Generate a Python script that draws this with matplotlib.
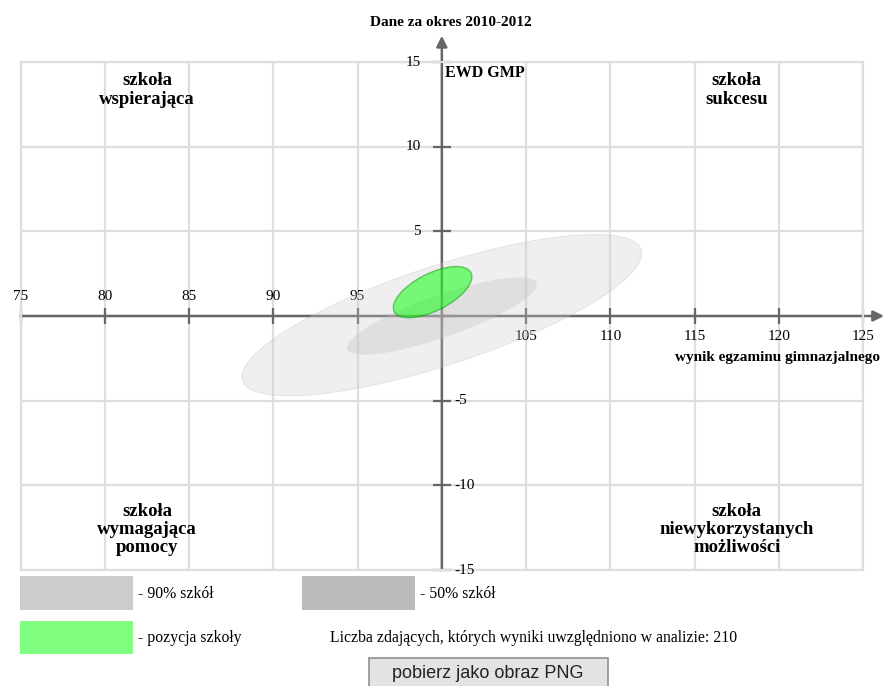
import matplotlib.pyplot as plt
from matplotlib.patches import Ellipse, Rectangle

# axis ticks
x_ticks = [75, 80, 85, 90, 95, 100, 105, 110, 115, 120, 125]
y_ticks = [-15, -10, -5, 0, 5, 10, 15]

# ellipses: centre, (width, height), angle in degrees
range90_center = (100.0, 0.05)
range90_size = (24.9, 5.85)
range90_angle = 18.1

range50_center = (100.0, 0.0)
range50_size = (11.9, 2.5)
range50_angle = 19.2

school_center = (99.45, 1.41)
school_size = (5.1, 2.2)
school_angle = 26.7

quadrant_labels = [
    "szkoła\nwspierająca",
    "szkoła\nsukcesu",
    "szkoła\nwymagająca\npomocy",
    "szkoła\nniewykorzystanych\nmożliwości",
]
legend_labels = ["- 90% szkół", "- 50% szkół", "- pozycja szkoły"]
n_students = 210

plt.rcParams['font.family'] = ['Liberation Serif', 'DejaVu Serif']

W, H = 885, 686
fig = plt.figure(figsize=(W / 100, H / 100), dpi=100)
ax = fig.add_axes([20.7 / W, (H - 570) / H, 842.3 / W, 508 / H])
ax.set_xlim(75, 125)
ax.set_ylim(-15, 15)

grid_col = '#dedede'
axis_col = '#666666'
text_col = '#000000'

# grid and frame
ax.set_xticks(x_ticks)
ax.set_yticks(y_ticks)
ax.tick_params(length=0, labelbottom=False, labelleft=False)
ax.grid(True, color=grid_col, lw=1.6)
ax.set_axisbelow(True)
for sp in ax.spines.values():
    sp.set_color(grid_col)
    sp.set_linewidth(1.6)

# central axes with arrows
ax.annotate('', xy=(100, 16.55), xytext=(100, -15), annotation_clip=False,
            arrowprops=dict(arrowstyle='-|>', color=axis_col, lw=1.8,
                            mutation_scale=16, shrinkA=0, shrinkB=0), zorder=2)
ax.annotate('', xy=(126.25, 0), xytext=(75, 0), annotation_clip=False,
            arrowprops=dict(arrowstyle='-|>', color=axis_col, lw=1.8,
                            mutation_scale=16, shrinkA=0, shrinkB=0), zorder=2)
ax.plot(x_ticks, [0] * len(x_ticks), ls='none', marker='|', ms=12, mew=1.6,
        color=axis_col, clip_on=False, zorder=2)
ax.plot([100] * len(y_ticks), y_ticks, ls='none', marker='_', ms=13, mew=1.6,
        color=axis_col, clip_on=False, zorder=2)

# tick labels
tick_fs = 11
for xv in x_ticks:
    if xv < 100:
        ax.annotate(str(xv), (xv, 0), xytext=(0, 14), textcoords='offset points',
                    ha='center', va='center', fontsize=tick_fs, color=text_col,
                    annotation_clip=False)
    elif xv > 100:
        ax.annotate(str(xv), (xv, 0), xytext=(0, -15), textcoords='offset points',
                    ha='center', va='center', fontsize=tick_fs, color=text_col,
                    annotation_clip=False)
for yv in y_ticks:
    if yv > 0:
        ax.annotate(str(yv), (100, yv), xytext=(-15, 0), textcoords='offset points',
                    ha='right', va='center', fontsize=tick_fs, color=text_col,
                    annotation_clip=False)
    elif yv < 0:
        ax.annotate(str(yv), (100, yv), xytext=(9, 0), textcoords='offset points',
                    ha='left', va='center', fontsize=tick_fs, color=text_col,
                    annotation_clip=False)

# ellipses
ax.add_patch(Ellipse(range90_center, *range90_size, angle=range90_angle,
                     facecolor='#cccccc', alpha=0.3, edgecolor='#bbbbbb', lw=0.8, zorder=3))
ax.add_patch(Ellipse(range50_center, *range50_size, angle=range50_angle,
                     facecolor='#bbbbbb', alpha=0.3, edgecolor='none', zorder=4))
ax.add_patch(Ellipse(school_center, *school_size, angle=school_angle,
                     facecolor=(0, 1, 0, 0.5), edgecolor=(0, 0.6, 0, 0.5), lw=1, zorder=5))

# quadrant labels
qpos = [(82.5, 13.35), (117.5, 13.35), (82.5, -12.6), (117.5, -12.6)]
for (qx, qy), lab in zip(qpos, quadrant_labels):
    ax.text(qx, qy, lab, ha='center', va='center', fontsize=13.5,
            fontweight='bold', linespacing=1.1, color=text_col, zorder=6)

ax.text(100.2, 14.8, 'EWD GMP', ha='left', va='top', fontsize=11.5,
        fontweight='bold', color=text_col, zorder=6)
fig.text(451 / W, 1 - 22 / H, 'Dane za okres 2010-2012', ha='center', va='center',
         fontsize=11, fontweight='bold', color=text_col)
fig.text(880 / W, 1 - 357 / H, 'wynik egzaminu gimnazjalnego', ha='right',
         va='center', fontsize=11, fontweight='bold', color=text_col)

# legend boxes
def fig_rect(x0, y0, x1, y1, **kw):
    fig.patches.append(Rectangle((x0 / W, 1 - y1 / H), (x1 - x0) / W, (y1 - y0) / H,
                                 transform=fig.transFigure, figure=fig, **kw))

fig_rect(20, 576, 133, 610, facecolor='#cccccc', edgecolor='none')
fig_rect(302, 576, 415, 610, facecolor='#bbbbbb', edgecolor='none')
fig_rect(20, 621, 133, 654, facecolor='#80ff80', edgecolor='none')
leg_fs = 11.3
fig.text(138 / W, 1 - 594 / H, legend_labels[0], ha='left', va='center', fontsize=leg_fs, color=text_col)
fig.text(420 / W, 1 - 594 / H, legend_labels[1], ha='left', va='center', fontsize=leg_fs, color=text_col)
fig.text(138 / W, 1 - 638 / H, legend_labels[2], ha='left', va='center', fontsize=leg_fs, color=text_col)
fig.text(330 / W, 1 - 638 / H,
         f'Liczba zdających, których wyniki uwzględniono w analizie: {n_students}',
         ha='left', va='center', fontsize=leg_fs, color=text_col)

# download button
fig_rect(369, 658, 608, 690, facecolor='#e3e3e3', edgecolor='#8f8f8f', lw=1.2)
fig.text(488 / W, 1 - 673 / H, 'pobierz jako obraz PNG', ha='center', va='center',
         fontsize=13, family='Liberation Sans', color='#222222')

fig.savefig('out.png', dpi=100, facecolor='white')
